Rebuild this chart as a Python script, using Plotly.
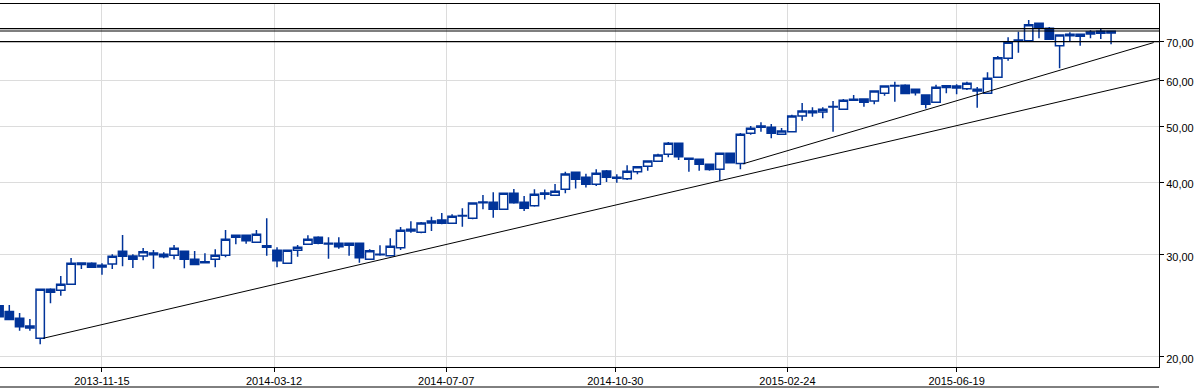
import plotly.graph_objects as go
import pandas as pd

# Weekly candles (Fridays)
dates = pd.date_range("2013-09-06", periods=109, freq="7D")

opens = [24.49, 23.94, 23.30, 22.60, 21.52, 26.14, 26.04, 26.67, 29.02, 28.99,
         28.57, 28.91, 30.41, 29.84, 29.84, 30.20, 30.05, 29.93, 30.41, 29.45,
         29.18, 29.45, 29.93, 32.15, 32.40, 31.51, 31.09, 30.53, 28.99, 30.53,
         31.26, 32.15, 31.39, 31.39, 31.14, 31.39, 29.45, 30.00, 29.88, 30.84,
         33.19, 32.79, 34.03, 34.43, 33.98, 34.98, 34.67, 36.90, 36.94, 35.93,
         38.29, 36.94, 36.45, 38.33, 37.99, 38.90, 41.62, 40.80, 39.68, 41.84,
         40.80, 40.58, 41.72, 42.63, 43.48, 44.71, 46.71, 44.00, 43.83, 42.97,
         42.12, 44.89, 43.10, 48.60, 50.03, 49.78, 48.41, 48.91, 52.06, 53.11,
         52.90, 53.98, 53.47, 55.63, 55.70, 55.26, 56.98, 58.76, 58.84, 57.89,
         56.59, 54.97, 58.72, 58.65, 58.03, 57.89, 56.98, 60.72, 65.48, 70.14,
         70.22, 75.25, 73.77, 68.85, 72.04, 71.46, 72.12, 72.89, 72.89]
highs = [24.70, 24.56, 23.79, 23.23, 26.14, 26.25, 27.56, 29.61, 29.11, 29.11,
         28.99, 30.05, 32.44, 30.05, 30.81, 30.56, 30.29, 31.18, 30.45, 30.44,
         30.17, 30.65, 33.09, 32.45, 32.45, 33.09, 34.67, 30.89, 30.55, 31.18,
         32.40, 32.27, 32.15, 32.15, 31.42, 31.42, 30.65, 31.14, 32.02, 33.49,
         34.26, 34.16, 34.89, 35.41, 35.22, 36.07, 36.90, 38.03, 38.44, 38.30,
         38.95, 37.88, 38.90, 38.87, 39.73, 41.72, 41.65, 41.39, 42.12, 42.00,
         41.29, 42.80, 42.60, 43.60, 44.81, 46.95, 46.75, 44.10, 43.90, 43.00,
         44.90, 44.90, 48.66, 50.03, 50.77, 50.43, 49.64, 52.33, 54.82, 53.89,
         53.89, 55.26, 55.70, 56.59, 55.75, 57.55, 58.70, 59.66, 59.05, 57.95,
         56.60, 58.96, 58.89, 59.05, 59.66, 58.42, 61.94, 66.08, 71.18, 72.78,
         76.25, 75.30, 74.15, 71.90, 72.60, 72.10, 73.18, 73.57, 72.95]
lows = [23.30, 23.15, 22.18, 22.18, 21.01, 24.73, 25.49, 26.60, 28.34, 28.45,
        27.71, 28.34, 28.65, 28.45, 29.34, 28.37, 29.57, 29.45, 28.42, 28.80,
        28.99, 28.53, 29.69, 31.26, 31.34, 31.45, 29.88, 28.53, 28.97, 29.76,
        31.20, 31.26, 29.52, 30.72, 29.88, 29.06, 29.40, 29.88, 29.85, 30.56,
        32.74, 32.66, 32.96, 33.85, 33.90, 33.53, 34.53, 35.93, 34.75, 35.90,
        36.74, 35.69, 36.30, 37.36, 37.95, 38.29, 39.03, 39.18, 39.41, 40.05,
        39.94, 40.37, 41.29, 41.89, 43.45, 44.18, 43.71, 41.72, 41.89, 41.89,
        40.26, 43.14, 42.12, 48.33, 48.91, 47.64, 48.35, 48.85, 51.10, 51.92,
        51.59, 48.91, 53.40, 55.35, 54.02, 54.54, 56.44, 55.11, 56.90, 56.48,
        53.64, 54.90, 57.00, 56.75, 57.73, 53.81, 56.90, 60.60, 64.86, 66.95,
        70.20, 70.90, 70.55, 62.94, 70.14, 68.85, 70.90, 70.70, 69.23]
closes = [23.45, 23.20, 22.53, 22.42, 26.14, 25.83, 26.67, 28.99, 28.87, 28.53,
          28.76, 29.81, 29.81, 29.45, 30.36, 30.00, 29.76, 30.77, 29.45, 28.85,
          29.06, 29.93, 31.89, 32.40, 31.71, 32.53, 30.89, 29.29, 30.53, 30.89,
          31.89, 31.39, 31.30, 30.97, 31.39, 29.64, 30.48, 30.07, 31.02, 33.05,
          32.96, 34.03, 34.30, 33.98, 34.94, 35.05, 36.84, 36.98, 35.93, 38.29,
          36.89, 36.07, 38.14, 38.15, 38.59, 41.34, 40.48, 39.68, 41.46, 40.80,
          40.64, 41.79, 42.56, 43.53, 44.58, 46.71, 44.28, 43.83, 42.97, 42.09,
          44.89, 43.24, 48.43, 49.58, 49.78, 48.60, 49.05, 52.06, 53.11, 52.75,
          53.47, 54.06, 55.41, 55.41, 54.97, 57.50, 58.65, 58.68, 56.93, 57.11,
          54.54, 58.37, 58.31, 58.19, 59.29, 57.50, 60.48, 65.64, 69.78, 70.42,
          74.83, 73.77, 70.62, 71.83, 71.63, 72.04, 72.69, 72.33, 72.41]

# Trend lines and horizontal levels
trend_lower_x = ["2013-10-06", "2015-11-03 14:00"]
trend_lower_y = [21.52, 60.43]
trend_upper_x = ["2015-01-25", "2015-10-31"]
trend_upper_y = [43.07, 69.72]
levels = [73.7, 73.0, 70.0]

x_range = ["2013-09-06 16:19", "2015-11-03 14:00"]
x_ticks = ["2013-11-15", "2014-03-12", "2014-07-07", "2014-10-30", "2015-02-24", "2015-06-19"]
y_ticks = [20, 30, 40, 50, 60, 70]
y_ticktext = ["20,00", "30,00", "40,00", "50,00", "60,00", "70,00"]

BLUE = "#003399"
GRID = "#dcdcdc"
FONT = dict(family="Liberation Sans, Arial, sans-serif", size=11, color="#000000")

fig = go.Figure()

fig.add_trace(go.Candlestick(
    x=dates, open=opens, high=highs, low=lows, close=closes,
    increasing=dict(line=dict(color=BLUE, width=1.5), fillcolor="white"),
    decreasing=dict(line=dict(color=BLUE, width=1.5), fillcolor=BLUE),
    whiskerwidth=0, showlegend=False, hoverinfo="skip",
))

for lv in levels:
    fig.add_trace(go.Scatter(x=x_range, y=[lv, lv], mode="lines",
                             line=dict(color="black", width=1.2),
                             showlegend=False, hoverinfo="skip"))

fig.add_trace(go.Scatter(x=trend_lower_x, y=trend_lower_y, mode="lines",
                         line=dict(color="black", width=1),
                         showlegend=False, hoverinfo="skip"))
fig.add_trace(go.Scatter(x=trend_upper_x, y=trend_upper_y, mode="lines",
                         line=dict(color="black", width=1),
                         showlegend=False, hoverinfo="skip"))

fig.add_shape(type="line", xref="paper", yref="paper", x0=0, x1=1,
              y0=-0.0551, y1=-0.0551, line=dict(color="black", width=1))

fig.update_layout(
    width=1199, height=388, autosize=False,
    margin=dict(l=0, r=40, t=4, b=21, pad=0),
    paper_bgcolor="white", plot_bgcolor="white",
    font=FONT, showlegend=False,
    boxgap=0.19, boxgroupgap=0,
    xaxis=dict(
        type="date", range=x_range, rangeslider=dict(visible=False),
        tickmode="array", tickvals=x_ticks, ticktext=x_ticks,
        showgrid=True, gridcolor=GRID, gridwidth=1,
        showline=True, linecolor="black", linewidth=1, mirror=True,
        ticks="outside", ticklen=4, tickcolor="black",
        tickfont=FONT, zeroline=False,
    ),
    yaxis=dict(
        type="log", side="right",
        range=[1.2833, 1.9099],
        tickmode="array", tickvals=y_ticks, ticktext=y_ticktext,
        showgrid=True, gridcolor=GRID, gridwidth=1,
        showline=True, linecolor="black", linewidth=1,
        ticks="outside", ticklen=4, tickcolor="black",
        tickfont=FONT, zeroline=False, ticklabelshift=2,
    ),
)

fig.write_html("out.html")
